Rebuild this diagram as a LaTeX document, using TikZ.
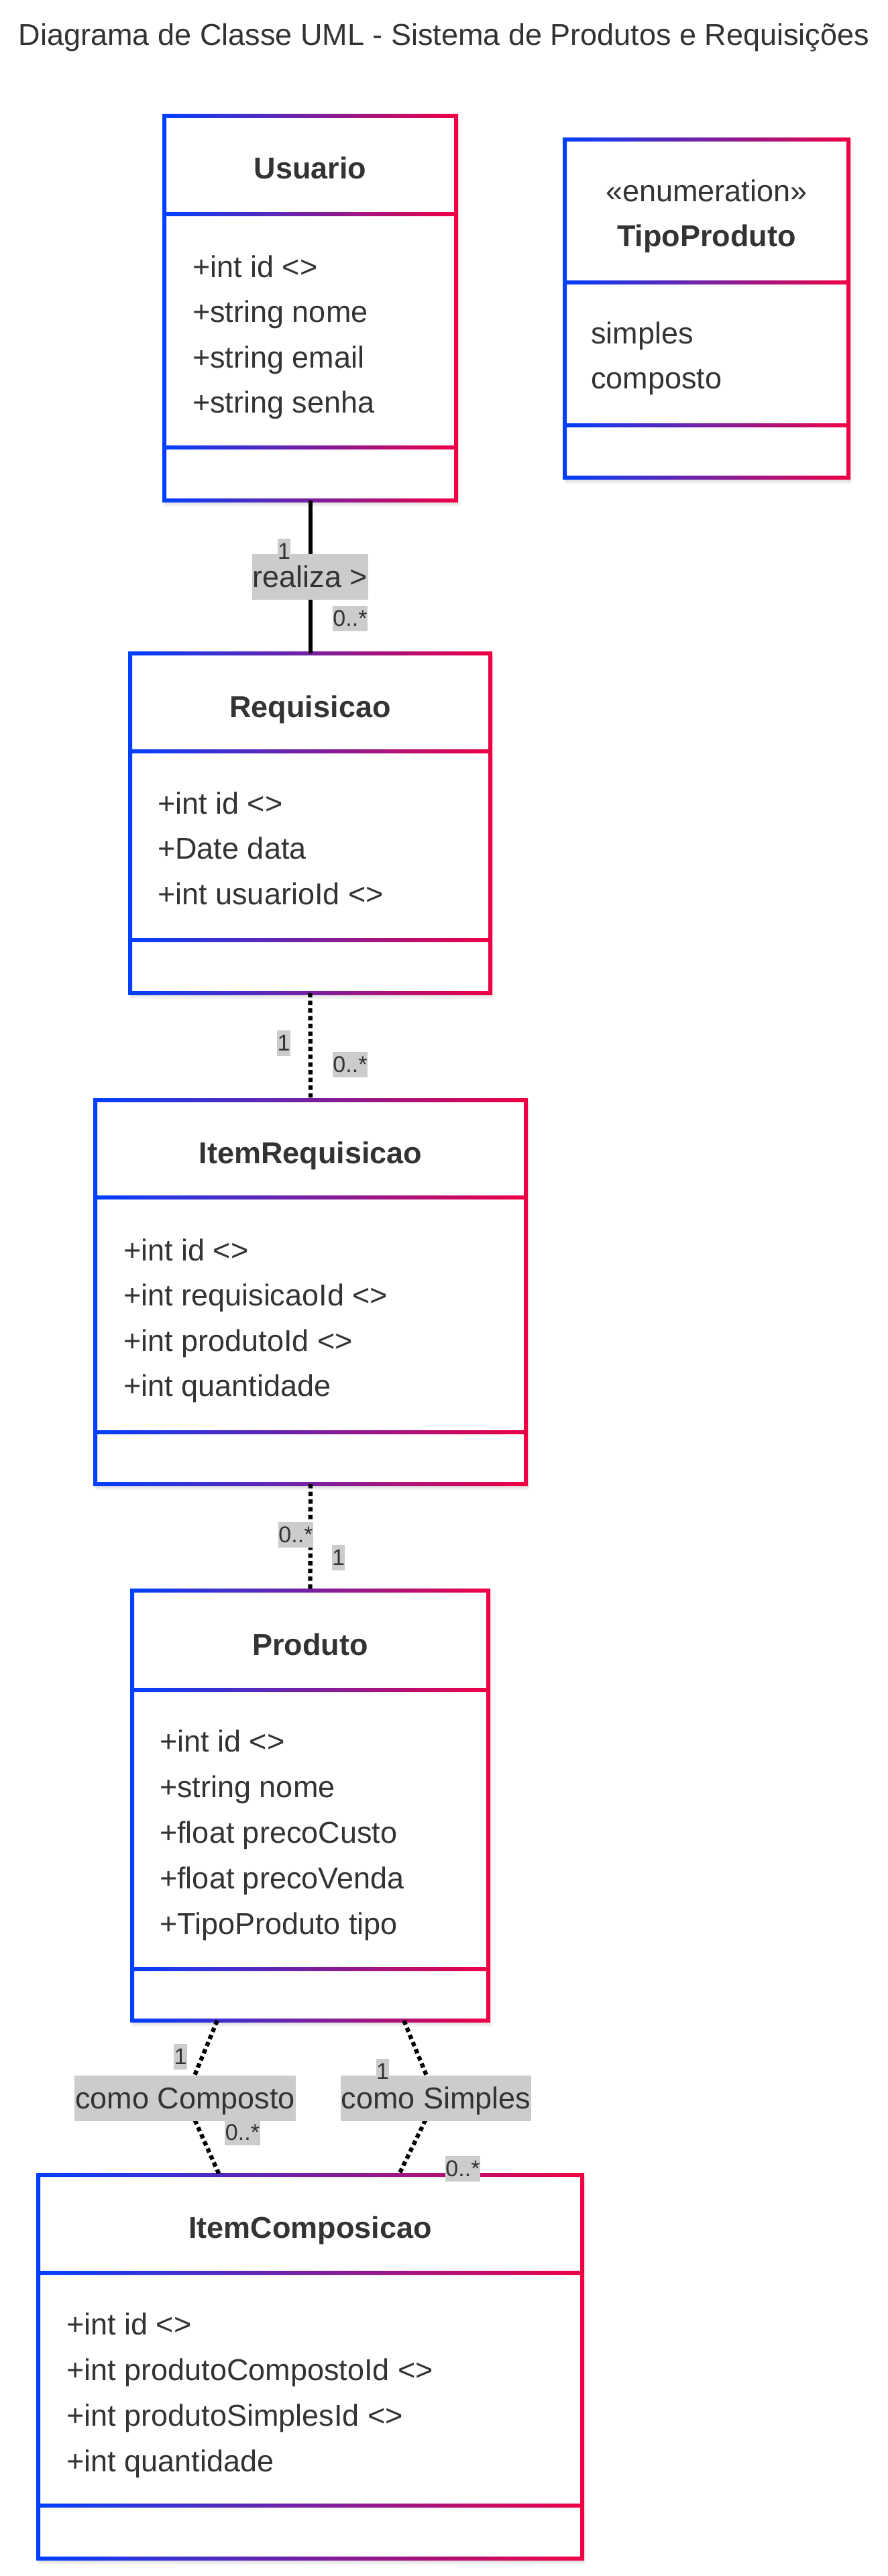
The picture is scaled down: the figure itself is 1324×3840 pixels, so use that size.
\documentclass[tikz,border=0pt]{standalone}
\usepackage{fontspec}
\setmainfont{Liberation Sans}
\usetikzlibrary{calc}
\definecolor{umlblue}{RGB}{0,64,255}
\definecolor{umlred}{RGB}{240,0,68}
\definecolor{umltext}{RGB}{51,51,51}
\definecolor{umllabel}{RGB}{204,204,204}

% class frame: name, left, top, right, bottom, header line, divider
\newcommand{\umlclass}[7]{%
  \fill[black,opacity=0.05] (#2,#3+4) rectangle (#4+5,#5+9);
  \fill[black,opacity=0.05] (#2+1,#3+3) rectangle (#4+3,#5+6);
  \fill[white] (#2,#3) rectangle (#4,#5);
  \shade[left color=umlblue,right color=umlred,even odd rule]
    (#2-3,#3-3) rectangle (#4+3,#5+3)
    (#2+3,#3+3) rectangle (#4-3,#6-3)
    (#2+3,#6+3) rectangle (#4-3,#7-3)
    (#2+3,#7+3) rectangle (#4-3,#5-3);
  \node[inner sep=0,minimum width={(#4-#2)*1pt},minimum height={(#5-#3)*1pt}] (#1) at ({(#2+#4)/2},{(#3+#5)/2}) {};
}

\begin{document}
\begin{tikzpicture}[x=1pt,y=-1pt,
    classname/.style={font=\bfseries\fontsize{45}{54}\selectfont,text=umltext,anchor=base,inner sep=0},
    attr/.style={font=\fontsize{45}{54}\selectfont,text=umltext,anchor=base west,inner sep=0},
    edgelabel/.style={font=\fontsize{45}{54}\selectfont,text=umltext,fill=umllabel,inner xsep=1pt,inner ysep=9pt,text height=40pt,text depth=9.5pt},
    mult/.style={font=\fontsize{34}{40}\selectfont,text=umltext,fill=umllabel,inner xsep=0.5pt,inner ysep=0pt,text height=30.5pt,text depth=7pt,anchor=north},
    assoc/.style={black,line width=6pt},
    link/.style={black,line width=6.3pt,dash pattern=on 6.5pt off 5pt}]
  \fill[white] (0,0) rectangle (1324,3840);
  \useasboundingbox (0,0) rectangle (1324,3840);
  \node[font=\fontsize{45}{54}\selectfont,text=umltext,anchor=base,inner sep=0] (title) at (662,68) {Diagrama de Classe UML - Sistema de Produtos e Requisições};

  \umlclass{usuario}{245}{173}{680}{746}{319}{667}
  \umlclass{tipoproduto}{842}{208}{1265}{712}{421}{634}
  \umlclass{requisicao}{194}{974}{731}{1480}{1120}{1401}
  \umlclass{itemrequisicao}{142}{1640}{784}{2212}{1785}{2135}
  \umlclass{produto}{197}{2371}{728}{3012}{2519}{2935}
  \umlclass{itemcomposicao}{57}{3242}{868}{3814}{3388}{3735}

  \node[classname] (usuario-name) at (462.5,266) {Usuario};
  \foreach \t [count=\i] in {+int id <>,+string nome,+string email,+string senha}
    \node[attr] (usuario-\i) at (287,{413+67.5*(\i-1)}) {\t};

  \node[attr,font=\fontsize{45}{54}\selectfont,anchor=base] (tipoproduto-stereo) at (1053.5,300) {«enumeration»};
  \node[classname] (tipoproduto-name) at (1053.5,367) {TipoProduto};
  \foreach \t [count=\i] in {simples,composto}
    \node[attr] (tipoproduto-\i) at (881,{512+67.5*(\i-1)}) {\t};

  \node[classname] (requisicao-name) at (462.5,1069) {Requisicao};
  \foreach \t [count=\i] in {+int id <>,+Date data,+int usuarioId <>}
    \node[attr] (requisicao-\i) at (235,{1213+67.5*(\i-1)}) {\t};

  \node[classname] (itemrequisicao-name) at (463,1734) {ItemRequisicao};
  \foreach \t [count=\i] in {+int id <>,+int requisicaoId <>,+int produtoId <>,+int quantidade}
    \node[attr] (itemrequisicao-\i) at (184,{1879+67.5*(\i-1)}) {\t};

  \node[classname] (produto-name) at (462.5,2467) {Produto};
  \foreach \t [count=\i] in {+int id <>,+string nome,+float precoCusto,+float precoVenda,+TipoProduto tipo}
    \node[attr] (produto-\i) at (238,{2611+68*(\i-1)}) {\t};

  \node[classname] (itemcomposicao-name) at (462.5,3336) {ItemComposicao};
  \foreach \t [count=\i] in {+int id <>,+int produtoCompostoId <>,+int produtoSimplesId <>,+int quantidade}
    \node[attr] (itemcomposicao-\i) at (99,{3480+68*(\i-1)}) {\t};

  \draw[assoc] (usuario.south) -- (requisicao.north) node[edgelabel,midway] (realiza) {realiza >};
  \draw[link] (requisicao.south) -- (itemrequisicao.north);
  \draw[link] (itemrequisicao.south) -- (produto.north);
  \coordinate (compmid) at (276,3128);
  \coordinate (simpmid) at (650,3128);
  \draw[link] ($(produto.south west)!0.239!(produto.south east)$) -- (compmid) -- ($(itemcomposicao.north west)!0.333!(itemcomposicao.north east)$);
  \draw[link] ($(produto.south west)!0.763!(produto.south east)$) -- (simpmid) -- ($(itemcomposicao.north west)!0.663!(itemcomposicao.north east)$);
  \node[edgelabel] (comocomposto) at (compmid) {como Composto};
  \node[edgelabel] (comosimples) at (simpmid) {como Simples};

  \node[mult] (realiza-1) at (423.5,803) {1};
  \node[mult] (realiza-n) at (522,903) {0..*};
  \node[mult] (requisicao-m1) at (423,1536) {1};
  \node[mult] (requisicao-mn) at (522,1568) {0..*};
  \node[mult] (produto-mn) at (441,2269) {0..*};
  \node[mult] (produto-m1) at (504.5,2303) {1};
  \node[mult] (comocomposto-1) at (269,3047) {1};
  \node[mult] (comocomposto-n) at (361.5,3160) {0..*};
  \node[mult] (comosimples-1) at (570.5,3069) {1};
  \node[mult] (comosimples-n) at (690,3214) {0..*};
\end{tikzpicture}
\end{document}
